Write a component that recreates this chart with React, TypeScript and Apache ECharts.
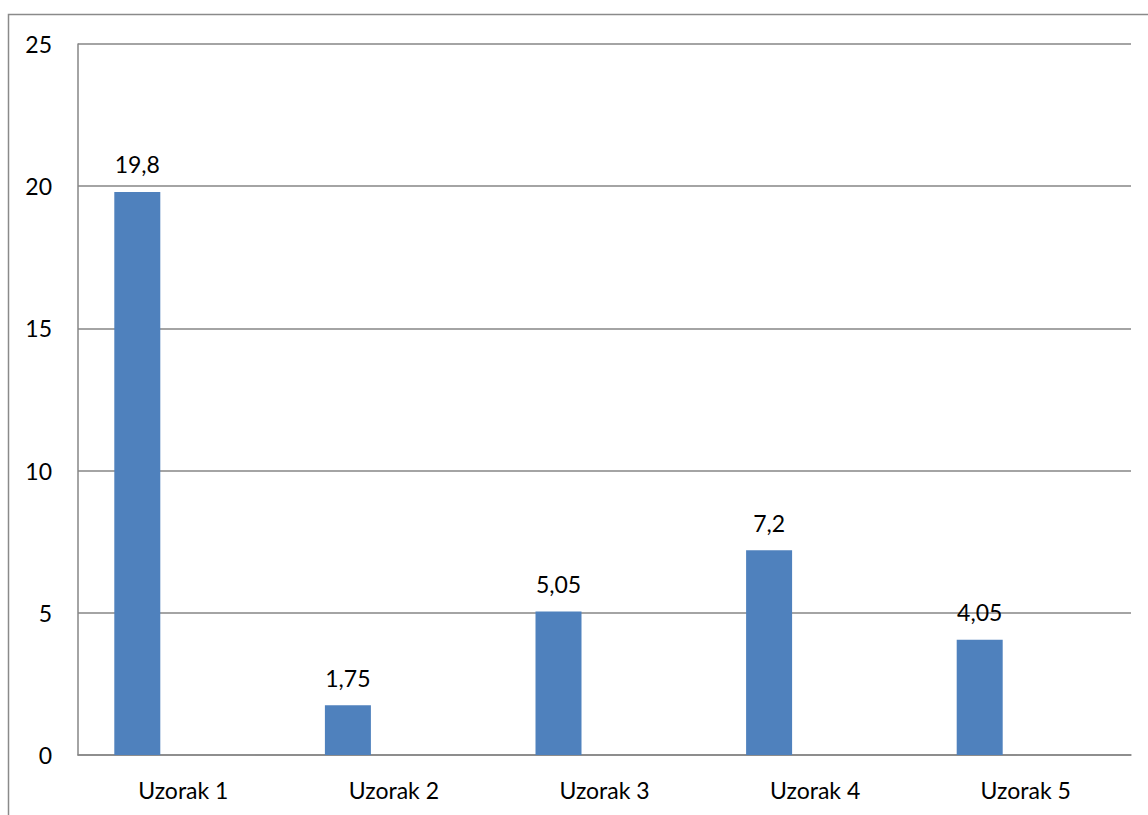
import React, { useEffect, useRef } from "react";
import * as echarts from "echarts";

const categories = ["Uzorak 1", "Uzorak 2", "Uzorak 3", "Uzorak 4", "Uzorak 5"];
const values = [19.8, 1.75, 5.05, 7.2, 4.05];
const emptySeries: (number | null)[] = [null, null, null, null, null];

export default function App() {
  const ref = useRef<HTMLDivElement>(null);
  useEffect(() => {
    if (!ref.current) return;
    const chart = echarts.init(ref.current, null, { renderer: "svg" });
    const font = "Lato";
    const fs = 23;
    chart.setOption({
      animation: false,
      backgroundColor: "#ffffff",
      grid: { left: 78, top: 44, right: 17, bottom: 60, containLabel: false },
      graphic: [
        {
          type: "rect",
          shape: { x: 8.5, y: 14.5, width: 1300, height: 1000 },
          style: { fill: "none", stroke: "#8a8a8a", lineWidth: 1.5 },
          silent: true,
        },
      ],
      xAxis: {
        type: "category",
        data: categories,
        axisLine: { show: true, lineStyle: { color: "#868686", width: 1.5 } },
        axisTick: { show: false },
        axisLabel: { color: "#000", fontFamily: font, fontSize: fs, margin: 23 },
      },
      yAxis: {
        type: "value",
        min: 0,
        max: 25,
        interval: 5,
        axisLine: { show: true, lineStyle: { color: "#868686", width: 1.5 } },
        axisTick: { show: false },
        splitLine: { show: true, lineStyle: { color: "#868686", width: 1.5 } },
        axisLabel: { color: "#000", fontFamily: font, fontSize: fs, margin: 26 },
      },
      series: [
        {
          type: "bar",
          data: values,
          barWidth: 46,
          barGap: "0%",
          itemStyle: { color: "#4F81BD" },
          label: {
            show: true,
            position: "top",
            distance: 16,
            color: "#000",
            fontFamily: font,
            fontSize: fs,
            formatter: (p: any) => String(p.value).replace(".", ","),
          },
        },
        { type: "bar", data: emptySeries, barWidth: 46, barGap: "0%" },
        { type: "bar", data: emptySeries, barWidth: 46, barGap: "0%" },
      ],
    });
    return () => chart.dispose();
  }, []);
  return (
    <div
      ref={ref}
      style={{ position: "absolute", left: 0, top: 0, width: 1148, height: 815 }}
    />
  );
}
